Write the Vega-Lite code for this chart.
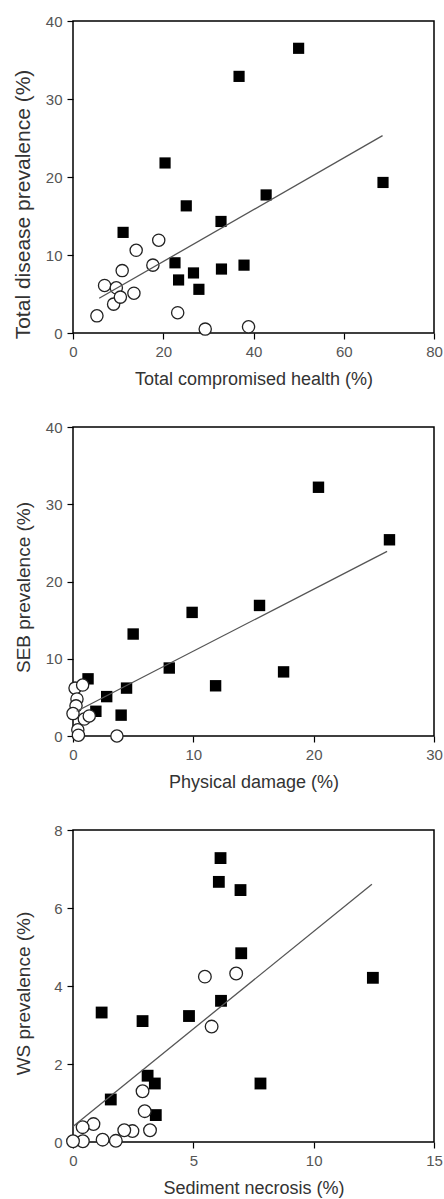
{
  "$schema": "https://vega.github.io/schema/vega-lite/v6.json",
  "padding": {"left": 11, "top": 13, "right": 0, "bottom": 0},
  "spacing": 30,
  "background": "white",
  "config": {
    "font": "Liberation Sans",
    "view": {"stroke": "#000", "strokeWidth": 1.5},
    "axis": {
      "grid": false,
      "domain": false,
      "tickColor": "#000",
      "tickWidth": 1.2,
      "tickSize": 6,
      "labelFont": "Liberation Sans",
      "labelFontSize": 15,
      "labelColor": "#555",
      "labelPadding": 5,
      "labelFlush": false,
      "labelOverlap": false,
      "titleFont": "Liberation Sans",
      "titleFontWeight": "normal",
      "titleColor": "#333"
    },
    "axisX": {"titleFontSize": 18, "titlePadding": 11},
    "axisY": {"titleFontSize": 19, "titlePadding": 10, "minExtent": 30}
  },
  "datasets": {
    "A": [
      {"x": 50.0, "y": 36.5, "type": "square"}, {"x": 36.8, "y": 32.9, "type": "square"},
      {"x": 20.4, "y": 21.8, "type": "square"}, {"x": 68.7, "y": 19.3, "type": "square"},
      {"x": 25.1, "y": 16.3, "type": "square"}, {"x": 42.8, "y": 17.7, "type": "square"},
      {"x": 32.8, "y": 14.3, "type": "square"}, {"x": 11.1, "y": 12.9, "type": "square"},
      {"x": 22.6, "y": 9.0, "type": "square"}, {"x": 23.4, "y": 6.8, "type": "square"},
      {"x": 26.7, "y": 7.7, "type": "square"}, {"x": 27.9, "y": 5.6, "type": "square"},
      {"x": 32.9, "y": 8.2, "type": "square"}, {"x": 37.9, "y": 8.7, "type": "square"},
      {"x": 5.3, "y": 2.2, "type": "circle"}, {"x": 7.0, "y": 6.1, "type": "circle"},
      {"x": 9.0, "y": 3.7, "type": "circle"}, {"x": 10.9, "y": 8.0, "type": "circle"},
      {"x": 13.5, "y": 5.1, "type": "circle"}, {"x": 9.6, "y": 5.8, "type": "circle"},
      {"x": 10.5, "y": 4.6, "type": "circle"}, {"x": 14.0, "y": 10.6, "type": "circle"},
      {"x": 19.0, "y": 11.9, "type": "circle"}, {"x": 17.7, "y": 8.7, "type": "circle"},
      {"x": 23.2, "y": 2.6, "type": "circle"}, {"x": 29.3, "y": 0.5, "type": "circle"},
      {"x": 38.9, "y": 0.8, "type": "circle"}
    ],
    "Aline": [{"x": 5.8, "y": 4.45}, {"x": 68.6, "y": 25.3}],
    "B": [
      {"x": 20.4, "y": 32.2, "type": "square"}, {"x": 26.3, "y": 25.4, "type": "square"},
      {"x": 9.9, "y": 16.0, "type": "square"}, {"x": 15.5, "y": 16.9, "type": "square"},
      {"x": 5.0, "y": 13.2, "type": "square"}, {"x": 8.0, "y": 8.8, "type": "square"},
      {"x": 11.85, "y": 6.5, "type": "square"}, {"x": 17.5, "y": 8.3, "type": "square"},
      {"x": 4.45, "y": 6.2, "type": "square"}, {"x": 2.8, "y": 5.1, "type": "square"},
      {"x": 4.0, "y": 2.7, "type": "square"}, {"x": 1.25, "y": 7.4, "type": "square"},
      {"x": 1.9, "y": 3.2, "type": "square"},
      {"x": 0.17, "y": 6.2, "type": "circle"}, {"x": 0.8, "y": 6.6, "type": "circle"},
      {"x": 0.33, "y": 4.8, "type": "circle"}, {"x": 0.25, "y": 3.9, "type": "circle"},
      {"x": 0.0, "y": 2.9, "type": "circle"}, {"x": 0.94, "y": 2.2, "type": "circle"},
      {"x": 1.35, "y": 2.6, "type": "circle"}, {"x": 0.4, "y": 0.8, "type": "circle"},
      {"x": 0.45, "y": 0.1, "type": "circle"}, {"x": 3.65, "y": 0.0, "type": "circle"}
    ],
    "Bline": [{"x": 0.3, "y": 3.2}, {"x": 26.1, "y": 23.9}],
    "C": [
      {"x": 6.13, "y": 7.28, "type": "square"}, {"x": 6.06, "y": 6.67, "type": "square"},
      {"x": 6.96, "y": 6.46, "type": "square"}, {"x": 6.99, "y": 4.84, "type": "square"},
      {"x": 12.46, "y": 4.21, "type": "square"}, {"x": 6.15, "y": 3.62, "type": "square"},
      {"x": 1.19, "y": 3.32, "type": "square"}, {"x": 2.89, "y": 3.10, "type": "square"},
      {"x": 4.82, "y": 3.23, "type": "square"}, {"x": 3.1, "y": 1.70, "type": "square"},
      {"x": 3.4, "y": 1.50, "type": "square"}, {"x": 7.79, "y": 1.50, "type": "square"},
      {"x": 1.57, "y": 1.09, "type": "square"}, {"x": 3.44, "y": 0.69, "type": "square"},
      {"x": 5.48, "y": 4.24, "type": "circle"}, {"x": 6.78, "y": 4.32, "type": "circle"},
      {"x": 5.76, "y": 2.96, "type": "circle"}, {"x": 2.89, "y": 1.30, "type": "circle"},
      {"x": 2.98, "y": 0.79, "type": "circle"}, {"x": 3.2, "y": 0.30, "type": "circle"},
      {"x": 2.47, "y": 0.28, "type": "circle"}, {"x": 2.13, "y": 0.30, "type": "circle"},
      {"x": 1.78, "y": 0.03, "type": "circle"}, {"x": 1.23, "y": 0.06, "type": "circle"},
      {"x": 0.85, "y": 0.46, "type": "circle"}, {"x": 0.41, "y": 0.02, "type": "circle"},
      {"x": 0.0, "y": 0.02, "type": "circle"}, {"x": 0.4, "y": 0.38, "type": "circle"}
    ],
    "Cline": [{"x": 0.0, "y": 0.4}, {"x": 12.42, "y": 6.61}]
  },
  "vconcat": [
    {
      "width": 361, "height": 312,
      "encoding": {
        "x": {"field": "x", "type": "quantitative", "scale": {"domain": [0, 80], "nice": false}, "axis": {"values": [0, 20, 40, 60, 80], "title": "Total compromised health (%)"}},
        "y": {"field": "y", "type": "quantitative", "scale": {"domain": [0, 40], "nice": false}, "axis": {"values": [0, 10, 20, 30, 40], "title": "Total disease prevalence (%)", "titleFontSize": 21, "titleY": 183}}
      },
      "layer": [
        {"data": {"name": "A"}, "transform": [{"filter": "datum.type == 'square'"}], "mark": {"type": "point", "shape": "square", "filled": true, "color": "#000", "size": 125, "opacity": 1}},
        {"data": {"name": "A"}, "transform": [{"filter": "datum.type == 'circle'"}], "mark": {"type": "point", "shape": "circle", "filled": true, "fill": "white", "stroke": "#222", "strokeWidth": 1.3, "size": 150, "opacity": 1}},
        {"data": {"name": "Aline"}, "mark": {"type": "line", "color": "#555", "strokeWidth": 1.3}},
        {"data": {"values": [{"label": "A"}]}, "mark": {"type": "text", "align": "left", "baseline": "alphabetic", "fontSize": 18, "fontWeight": "bold", "color": "#222"}, "encoding": {"x": {"datum": 2.9, "type": "quantitative"}, "y": {"datum": 35.9, "type": "quantitative"}, "text": {"field": "label"}}},
        {"data": {"values": [{"label": "P < 0.005"}]}, "mark": {"type": "text", "align": "right", "baseline": "alphabetic", "fontSize": 17, "fontStyle": "italic", "color": "#444"}, "encoding": {"x": {"datum": 76.5, "type": "quantitative"}, "y": {"datum": 36.9, "type": "quantitative"}, "text": {"field": "label"}}},
        {"data": {"values": [{"label": "r= 0.54"}]}, "mark": {"type": "text", "align": "right", "baseline": "alphabetic", "fontSize": 17, "fontStyle": "italic", "color": "#444"}, "encoding": {"x": {"datum": 76.5, "type": "quantitative"}, "y": {"datum": 33.7, "type": "quantitative"}, "text": {"field": "label"}}}
      ]
    },
    {
      "width": 361, "height": 309,
      "encoding": {
        "x": {"field": "x", "type": "quantitative", "scale": {"domain": [0, 30], "nice": false}, "axis": {"values": [0, 10, 20, 30], "title": "Physical damage (%)"}},
        "y": {"field": "y", "type": "quantitative", "scale": {"domain": [0, 40], "nice": false}, "axis": {"values": [0, 10, 20, 30, 40], "title": "SEB prevalence (%)", "titleY": 160}}
      },
      "layer": [
        {"data": {"name": "B"}, "transform": [{"filter": "datum.type == 'square'"}], "mark": {"type": "point", "shape": "square", "filled": true, "color": "#000", "size": 130, "opacity": 1}},
        {"data": {"name": "B"}, "transform": [{"filter": "datum.type == 'circle'"}], "mark": {"type": "point", "shape": "circle", "filled": true, "fill": "white", "stroke": "#222", "strokeWidth": 1.3, "size": 150, "opacity": 1}},
        {"data": {"name": "Bline"}, "mark": {"type": "line", "color": "#555", "strokeWidth": 1.3}},
        {"data": {"values": [{"label": "B"}]}, "mark": {"type": "text", "align": "left", "baseline": "alphabetic", "fontSize": 18, "fontWeight": "bold", "color": "#222"}, "encoding": {"x": {"datum": 1.2, "type": "quantitative"}, "y": {"datum": 35.7, "type": "quantitative"}, "text": {"field": "label"}}},
        {"data": {"values": [{"label": "P < 0.001"}]}, "mark": {"type": "text", "align": "right", "baseline": "alphabetic", "fontSize": 17, "fontStyle": "italic", "color": "#444"}, "encoding": {"x": {"datum": 28.7, "type": "quantitative"}, "y": {"datum": 37.06, "type": "quantitative"}, "text": {"field": "label"}}},
        {"data": {"values": [{"label": "r= 0.78"}]}, "mark": {"type": "text", "align": "right", "baseline": "alphabetic", "fontSize": 17, "fontStyle": "italic", "color": "#444"}, "encoding": {"x": {"datum": 28.7, "type": "quantitative"}, "y": {"datum": 34.0, "type": "quantitative"}, "text": {"field": "label"}}}
      ]
    },
    {
      "width": 361, "height": 312,
      "encoding": {
        "x": {"field": "x", "type": "quantitative", "scale": {"domain": [0, 15], "nice": false}, "axis": {"values": [0, 5, 10, 15], "title": "Sediment necrosis (%)"}},
        "y": {"field": "y", "type": "quantitative", "scale": {"domain": [0, 8], "nice": false}, "axis": {"values": [0, 2, 4, 6, 8], "title": "WS prevalence (%)", "titleY": 163}}
      },
      "layer": [
        {"data": {"name": "C"}, "transform": [{"filter": "datum.type == 'square'"}], "mark": {"type": "point", "shape": "square", "filled": true, "color": "#000", "size": 140, "opacity": 1}},
        {"data": {"name": "C"}, "transform": [{"filter": "datum.type == 'circle'"}], "mark": {"type": "point", "shape": "circle", "filled": true, "fill": "white", "stroke": "#222", "strokeWidth": 1.3, "size": 160, "opacity": 1}},
        {"data": {"name": "Cline"}, "mark": {"type": "line", "color": "#555", "strokeWidth": 1.3}},
        {"data": {"values": [{"label": "C"}]}, "mark": {"type": "text", "align": "left", "baseline": "alphabetic", "fontSize": 18, "fontWeight": "bold", "color": "#222"}, "encoding": {"x": {"datum": 0.47, "type": "quantitative"}, "y": {"datum": 7.15, "type": "quantitative"}, "text": {"field": "label"}}},
        {"data": {"values": [{"label": "P < 0.001"}]}, "mark": {"type": "text", "align": "right", "baseline": "alphabetic", "fontSize": 17, "fontStyle": "italic", "color": "#444"}, "encoding": {"x": {"datum": 14.31, "type": "quantitative"}, "y": {"datum": 7.47, "type": "quantitative"}, "text": {"field": "label"}}},
        {"data": {"values": [{"label": "r= 0.67"}]}, "mark": {"type": "text", "align": "right", "baseline": "alphabetic", "fontSize": 17, "fontStyle": "italic", "color": "#444"}, "encoding": {"x": {"datum": 14.31, "type": "quantitative"}, "y": {"datum": 6.87, "type": "quantitative"}, "text": {"field": "label"}}}
      ]
    }
  ]
}
